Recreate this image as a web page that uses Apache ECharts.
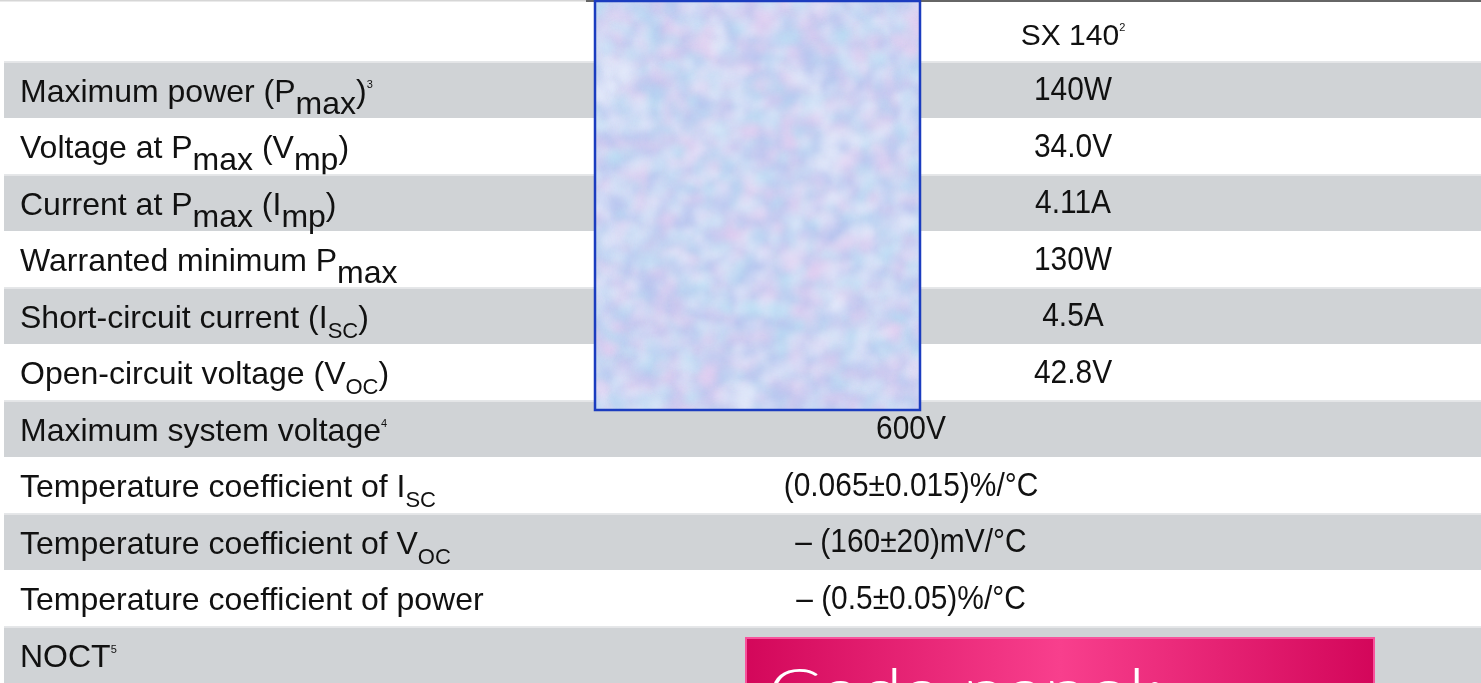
<!DOCTYPE html>
<html>
<head>
<meta charset="utf-8">
<script src="https://cdn.jsdelivr.net/npm/echarts@6/dist/echarts.min.js"></script>
<style>
html,body{margin:0;padding:0;background:#fff;}
#c{width:1481px;height:683px;}
</style>
</head>
<body>
<div id="c"></div>
<script>
// ---- table content ----
const columnHeader = 'SX 140{sup|2}';
const rowLabels = [
  'Maximum power (P{sub|max}){sup|3}',
  'Voltage at P{sub|max} (V{sub|mp})',
  'Current at P{sub|max} (I{sub|mp})',
  'Warranted minimum P{sub|max}',
  'Short-circuit current (I{subc|SC})',
  'Open-circuit voltage (V{subc|OC})',
  'Maximum system voltage{sup|4}',
  'Temperature coefficient of I{subc|SC}',
  'Temperature coefficient of V{subc|OC}',
  'Temperature coefficient of power',
  'NOCT{sup|5}'
];
const sx140Values = ['140W', '34.0V', '4.11A', '130W', '4.5A', '42.8V'];
const sharedValues = ['600V', '(0.065±0.015)%/°C', '– (160±20)mV/°C', '– (0.5±0.05)%/°C', ''];
const rowIndex = rowLabels.map((_, i) => i + 1);

// ---- styles ----
const LABEL_FONT = 'Liberation Sans';
const TEXT_COLOR = '#111111';
const GRAY = '#d0d3d6';
const richLabel = {
  sub: {fontFamily: LABEL_FONT, fontSize: 32, color: TEXT_COLOR, padding: [24, 0, 0, 0]},
  subc: {fontFamily: LABEL_FONT, fontSize: 22, color: TEXT_COLOR, padding: [26, 0, 0, 0]},
  sup: {fontFamily: LABEL_FONT, fontSize: 11, color: TEXT_COLOR, padding: [0, 0, 16, 0]}
};

// soft mottled texture for the decorative picture
function makeTexture(w, h) {
  const cv = document.createElement('canvas');
  cv.width = w; cv.height = h;
  const ctx = cv.getContext('2d');
  ctx.fillStyle = '#ced7f5';
  ctx.fillRect(0, 0, w, h);
  ctx.filter = 'blur(3px)';
  const cols = ['rgba(236,204,240,0.28)', 'rgba(182,226,246,0.30)', 'rgba(170,188,238,0.24)', 'rgba(232,238,253,0.35)'];
  let n = 0;
  for (let y = -10; y < h + 20; y += 8) {
    for (let x = -10; x < w + 20; x += 8) {
      n++;
      const s = Math.sin(x * 0.047 + y * 0.031) + Math.sin(x * 0.013 - y * 0.041) + Math.cos((x + y) * 0.021);
      const k = Math.abs(Math.floor((s + 3) * 7.3 + n * 0.37)) % cols.length;
      const r = 4 + (Math.abs(Math.sin(n * 12.9898) * 43758.5453) % 1) * 7;
      const ox = (Math.abs(Math.sin(n * 78.233) * 12345.678) % 1) * 7;
      const oy = (Math.abs(Math.cos(n * 39.425) * 54321.123) % 1) * 7;
      ctx.fillStyle = cols[k];
      ctx.beginPath();
      ctx.arc(x + ox, y + oy, r, 0, Math.PI * 2);
      ctx.fill();
    }
  }
  ctx.filter = 'none';
  return cv;
}

const chart = echarts.init(document.getElementById('c'), null, {renderer: 'canvas'});

function renderRow(params, api) {
  const r = api.value(0);
  const top = api.coord([0, r])[1];
  const bot = api.coord([0, r + 1])[1];
  const left = api.coord([4, 0])[0];
  const right = api.coord([1481, 0])[0];
  const mid = (top + bot) / 2;
  const children = [];
  if (r % 2 === 1) {
    children.push({type: 'rect', shape: {x: left, y: top, width: right - left, height: bot - top},
      style: {fill: GRAY}});
    children.push({type: 'rect', shape: {x: left, y: top, width: right - left, height: 1.5},
      style: {fill: '#e4e5e7'}});
  }
  children.push({type: 'text', style: {
    text: rowLabels[r - 1], x: api.coord([20, 0])[0], y: mid + 3,
    fontFamily: LABEL_FONT, fontSize: 32, fill: TEXT_COLOR,
    align: 'left', verticalAlign: 'middle', rich: richLabel}});
  let val, vx;
  if (r <= sx140Values.length) { val = sx140Values[r - 1]; vx = 1073; }
  else { val = sharedValues[r - 1 - sx140Values.length]; vx = 911; }
  if (val) {
    children.push({type: 'text', x: api.coord([vx, 0])[0], y: mid + 1, scaleX: 0.88,
      style: {text: val, x: 0, y: 0,
        fontFamily: LABEL_FONT, fontSize: 34, fill: TEXT_COLOR,
        align: 'center', verticalAlign: 'middle'}});
  }
  return {type: 'group', children};
}

function renderHeader(params, api) {
  const top = api.coord([0, 0])[1];
  const bot = api.coord([0, 1])[1];
  return {type: 'text', style: {
    text: columnHeader, x: api.coord([1073, 0])[0], y: (top + bot) / 2 + 3,
    fontFamily: LABEL_FONT, fontSize: 30, fill: TEXT_COLOR,
    align: 'center', verticalAlign: 'middle', rich: richLabel}};
}

chart.setOption({
  animation: false,
  backgroundColor: '#ffffff',
  grid: {left: 0, top: 5, width: 1481, height: 683},
  xAxis: {type: 'value', min: 0, max: 1481, show: false},
  yAxis: {type: 'value', min: 0, max: 12, inverse: true, show: false},
  series: [
    {type: 'custom', renderItem: renderRow, data: rowIndex.map(v => [v]), encode: {y: 0}, clip: false, silent: true},
    {type: 'custom', renderItem: renderHeader, data: [[0]], encode: {y: 0}, clip: false, silent: true}
  ],
  graphic: [
    {type: 'rect', z: 100, shape: {x: 0, y: 0, width: 586, height: 1.5}, style: {fill: '#d6d6d6'}},
    {type: 'rect', z: 100, shape: {x: 586, y: 0, width: 895, height: 2}, style: {fill: '#666666'}},
    {type: 'image', z: 101, style: {image: makeTexture(326, 410), x: 595, y: 1, width: 325, height: 409}},
    {type: 'rect', z: 102, shape: {x: 595, y: 1, width: 325, height: 409},
      style: {fill: 'none', stroke: '#1b3cbf', lineWidth: 2.5}},
    {type: 'rect', z: 103, shape: {x: 746, y: 638, width: 628, height: 60},
      style: {fill: new echarts.graphic.LinearGradient(0, 0, 1, 0, [
        {offset: 0, color: '#d3075a'}, {offset: 0.5, color: '#f83f8d'}, {offset: 1, color: '#d3065a'}]),
        stroke: '#f8529c', lineWidth: 2}},
    {type: 'text', z: 104, x: 768, y: 661, scaleX: 1.27,
      style: {text: 'Cada panel:', x: 0, y: 0,
        fontFamily: 'Lato', fontWeight: 300, fontSize: 62, fill: '#ffffff', align: 'left', verticalAlign: 'top'}}
  ]
});
</script>
</body>
</html>
